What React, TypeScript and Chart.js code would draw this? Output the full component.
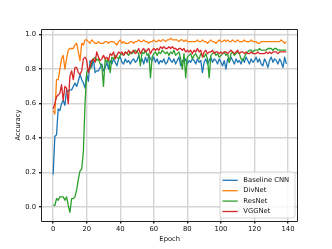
import React, { useEffect, useRef } from "react";
import { Chart, registerables } from "chart.js";

Chart.register(...registerables);

const epochs: number[] = Array.from({ length: 140 }, (_, i) => i);

const baselineCNN: number[] = [
  0.19, 0.41, 0.42, 0.57, 0.56, 0.60, 0.62, 0.59, 0.68, 0.67,
  0.68, 0.68, 0.70, 0.72, 0.70, 0.73, 0.77, 0.74, 0.72, 0.69,
  0.77, 0.73, 0.85, 0.81, 0.86, 0.78, 0.79, 0.79, 0.81, 0.83,
  0.79, 0.81, 0.84, 0.80, 0.85, 0.83, 0.86, 0.84, 0.82, 0.86,
  0.87, 0.84, 0.83, 0.86, 0.84, 0.85, 0.83, 0.85, 0.86, 0.84,
  0.85, 0.88, 0.84, 0.86, 0.83, 0.87, 0.84, 0.88, 0.86, 0.85,
  0.87, 0.84, 0.86, 0.83, 0.85, 0.84, 0.86, 0.83, 0.84, 0.87,
  0.85, 0.84, 0.86, 0.83, 0.85, 0.87, 0.82, 0.85, 0.84, 0.86,
  0.83, 0.85, 0.84, 0.86, 0.85, 0.83, 0.86, 0.84, 0.85, 0.78,
  0.84, 0.86, 0.83, 0.85, 0.87, 0.84, 0.86, 0.85, 0.83, 0.86,
  0.84, 0.82, 0.85, 0.80, 0.86, 0.84, 0.87, 0.85, 0.83, 0.86,
  0.84, 0.85, 0.83, 0.86, 0.84, 0.87, 0.85, 0.83, 0.86, 0.84,
  0.85, 0.87, 0.84, 0.86, 0.83, 0.82, 0.86, 0.84, 0.81, 0.85,
  0.87, 0.84, 0.86, 0.85, 0.83, 0.86, 0.84, 0.81, 0.87, 0.83,
];

const divNet: number[] = [
  0.56, 0.54, 0.74, 0.74, 0.80, 0.86, 0.88, 0.80, 0.86, 0.91,
  0.92, 0.92, 0.92, 0.94, 0.95, 0.90, 0.85, 0.95, 0.94, 0.97,
  0.97, 0.96, 0.95, 0.97, 0.96, 0.95, 0.95, 0.96, 0.95, 0.95,
  0.95, 0.96, 0.96, 0.95, 0.96, 0.96, 0.96, 0.95, 0.94, 0.96,
  0.97, 0.95, 0.96, 0.95, 0.95, 0.95, 0.96, 0.96, 0.95, 0.96,
  0.96, 0.97, 0.96, 0.96, 0.97, 0.96, 0.96, 0.95, 0.96, 0.96,
  0.97, 0.96, 0.96, 0.97, 0.96, 0.97, 0.97, 0.96, 0.97, 0.97,
  0.98, 0.97, 0.97, 0.97, 0.97, 0.96, 0.97, 0.97, 0.96, 0.97,
  0.96, 0.96, 0.96, 0.96, 0.96, 0.96, 0.97, 0.96, 0.96, 0.97,
  0.96, 0.96, 0.95, 0.96, 0.97, 0.96, 0.96, 0.95, 0.96, 0.97,
  0.96, 0.96, 0.97, 0.96, 0.97, 0.96, 0.96, 0.97, 0.96, 0.96,
  0.97, 0.96, 0.96, 0.96, 0.97, 0.96, 0.96, 0.96, 0.97, 0.96,
  0.96, 0.96, 0.95, 0.95, 0.96, 0.96, 0.96, 0.96, 0.96, 0.96,
  0.96, 0.96, 0.96, 0.96, 0.96, 0.96, 0.97, 0.96, 0.95, 0.96,
];

const resNet: number[] = [
  0.01, 0.01, 0.05, 0.04, 0.06, 0.06, 0.06, 0.04, 0.06, 0.01,
  -0.03, 0.05, 0.05, 0.06, 0.10, 0.16, 0.21, 0.22, 0.32, 0.60,
  0.78, 0.80, 0.80, 0.84, 0.86, 0.87, 0.85, 0.86, 0.83, 0.82,
  0.70, 0.86, 0.84, 0.86, 0.78, 0.87, 0.86, 0.88, 0.87, 0.86,
  0.88, 0.89, 0.88, 0.90, 0.89, 0.88, 0.90, 0.89, 0.90, 0.91,
  0.90, 0.89, 0.82, 0.90, 0.89, 0.91, 0.88, 0.89, 0.75, 0.87,
  0.89, 0.90, 0.88, 0.90, 0.89, 0.91, 0.90, 0.89, 0.90, 0.88,
  0.90, 0.89, 0.91, 0.88, 0.89, 0.90, 0.86, 0.80, 0.89, 0.75,
  0.87, 0.88, 0.89, 0.86, 0.88, 0.89, 0.87, 0.86, 0.89, 0.88,
  0.87, 0.89, 0.86, 0.75, 0.88, 0.89, 0.90, 0.88, 0.89, 0.87,
  0.88, 0.89, 0.90, 0.88, 0.89, 0.84, 0.89, 0.90, 0.88, 0.89,
  0.90, 0.89, 0.86, 0.85, 0.87, 0.89, 0.90, 0.91, 0.91, 0.90,
  0.91, 0.91, 0.91, 0.92, 0.91, 0.91, 0.91, 0.91, 0.92, 0.92,
  0.92, 0.91, 0.92, 0.92, 0.91, 0.91, 0.91, 0.91, 0.91, 0.91,
];

const vggNet: number[] = [
  0.57, 0.60, 0.64, 0.65, 0.66, 0.71, 0.62, 0.70, 0.69, 0.60,
  0.76, 0.79, 0.74, 0.81, 0.81, 0.78, 0.77, 0.79, 0.86, 0.87,
  0.85, 0.78, 0.82, 0.85, 0.86, 0.84, 0.90, 0.87, 0.85, 0.86,
  0.88, 0.86, 0.87, 0.85, 0.89, 0.88, 0.90, 0.86, 0.88, 0.90,
  0.89, 0.90, 0.88, 0.90, 0.89, 0.91, 0.89, 0.90, 0.91, 0.89,
  0.90, 0.92, 0.89, 0.91, 0.92, 0.90, 0.91, 0.92, 0.89, 0.91,
  0.92, 0.91, 0.92, 0.91, 0.93, 0.92, 0.93, 0.92, 0.92, 0.93,
  0.92, 0.93, 0.92, 0.92, 0.91, 0.92, 0.92, 0.91, 0.92, 0.90,
  0.91, 0.90, 0.91, 0.89, 0.91, 0.90, 0.92, 0.90, 0.91, 0.87,
  0.90, 0.91, 0.89, 0.90, 0.90, 0.91, 0.89, 0.90, 0.90, 0.89,
  0.90, 0.89, 0.90, 0.90, 0.89, 0.90, 0.91, 0.90, 0.89, 0.90,
  0.91, 0.89, 0.90, 0.90, 0.89, 0.90, 0.89, 0.89, 0.90, 0.89,
  0.89, 0.89, 0.90, 0.89, 0.89, 0.89, 0.89, 0.90, 0.89, 0.90,
  0.89, 0.90, 0.90, 0.90, 0.89, 0.90, 0.90, 0.90, 0.90, 0.90,
];

const seriesNames: string[] = ["Baseline CNN", "DivNet", "ResNet", "VGGNet"];
const seriesColors: string[] = ["#1f77b4", "#ff7f0e", "#2ca02c", "#d62728"];
const xTicks: number[] = [0, 20, 40, 60, 80, 100, 120, 140];
const yTicks: number[] = [0.0, 0.2, 0.4, 0.6, 0.8, 1.0];
const xTitle = "Epoch";
const yTitle = "Accuracy";

const FONT = "'DejaVu Sans', sans-serif";

const framePlugin = {
  id: "frameAndLegend",
  afterDatasetsDraw(chart: any) {
    const { ctx, chartArea } = chart;
    const { left, right, top, bottom } = chartArea;
    ctx.save();
    // spines
    ctx.strokeStyle = "#222";
    ctx.lineWidth = 1;
    ctx.beginPath();
    ctx.moveTo(Math.round(left) - 0.5, Math.round(top) + 0.5);
    ctx.lineTo(Math.round(right) - 0.5, Math.round(top) + 0.5);
    ctx.lineTo(Math.round(right) - 0.5, Math.round(bottom) + 0.5);
    ctx.lineTo(Math.round(left) - 0.5, Math.round(bottom) + 0.5);
    ctx.closePath();
    ctx.stroke();

    // legend
    const bw = 75;
    const bh = 46;
    const bx = right - 3 - bw;
    const by = bottom - 3 - bh;
    const r = 2;
    ctx.beginPath();
    ctx.moveTo(bx + r, by);
    ctx.lineTo(bx + bw - r, by);
    ctx.quadraticCurveTo(bx + bw, by, bx + bw, by + r);
    ctx.lineTo(bx + bw, by + bh - r);
    ctx.quadraticCurveTo(bx + bw, by + bh, bx + bw - r, by + bh);
    ctx.lineTo(bx + r, by + bh);
    ctx.quadraticCurveTo(bx, by + bh, bx, by + bh - r);
    ctx.lineTo(bx, by + r);
    ctx.quadraticCurveTo(bx, by, bx + r, by);
    ctx.closePath();
    ctx.fillStyle = "rgba(255,255,255,0.8)";
    ctx.fill();
    ctx.strokeStyle = "#cccccc";
    ctx.lineWidth = 0.8;
    ctx.stroke();

    ctx.font = `6.8px ${FONT}`;
    ctx.textBaseline = "middle";
    ctx.textAlign = "left";
    const ds = chart.data.datasets;
    for (let i = 0; i < ds.length; i++) {
      const yy = by + 8.3 + i * 10.4;
      ctx.strokeStyle = ds[i].borderColor;
      ctx.lineWidth = 1.3;
      ctx.beginPath();
      ctx.moveTo(bx + 2.5, yy);
      ctx.lineTo(bx + 17.7, yy);
      ctx.stroke();
      ctx.fillStyle = "#111";
      ctx.fillText(ds[i].label, bx + 23.3, yy);
    }
    ctx.restore();
  },
};

export default function App() {
  const canvasRef = useRef<HTMLCanvasElement | null>(null);

  useEffect(() => {
    const canvas = canvasRef.current;
    if (!canvas) return;
    const seriesData = [baselineCNN, divNet, resNet, vggNet];
    const chart = new Chart(canvas, {
      type: "line",
      data: {
        datasets: seriesNames.map((name, i) => ({
          label: name,
          data: epochs.map((e, j) => ({ x: e, y: seriesData[i][j] })),
          borderColor: seriesColors[i],
          backgroundColor: seriesColors[i],
          borderWidth: 1.3,
          pointRadius: 0,
          pointHoverRadius: 0,
          tension: 0,
          fill: false,
          borderJoinStyle: "round" as const,
          order: seriesNames.length - i,
        })),
      },
      options: {
        animation: false,
        responsive: false,
        devicePixelRatio: 1,
        events: [],
        layout: { padding: { top: 29, right: 34, left: 0, bottom: 0 } },
        plugins: {
          legend: { display: false },
          tooltip: { enabled: false },
        },
        scales: {
          x: {
            type: "linear",
            min: -6.95,
            max: 145.95,
            afterBuildTicks: (scale: any) => {
              scale.ticks = xTicks.map((v) => ({ value: v }));
            },
            afterFit: (scale: any) => {
              scale.height = 28;
            },
            ticks: {
              font: { family: FONT, size: 6.8 },
              color: "#111",
              padding: 2,
              maxRotation: 0,
              autoSkip: false,
              callback: (v: any) => String(v),
            },
            grid: {
              color: "#d4d4d4",
              lineWidth: 1.4,
              tickColor: "#222",
              tickLength: 2.5,
              drawTicks: true,
            },
            border: { display: false },
            title: {
              display: true,
              text: xTitle,
              font: { family: FONT, size: 6.8 },
              color: "#111",
              padding: { top: 0, bottom: 5.8 },
            },
          },
          y: {
            type: "linear",
            min: -0.08,
            max: 1.033,
            afterBuildTicks: (scale: any) => {
              scale.ticks = yTicks.map((v) => ({ value: v }));
            },
            afterFit: (scale: any) => {
              scale.width = 41.5;
            },
            ticks: {
              font: { family: FONT, size: 6.8 },
              color: "#111",
              padding: 3,
              autoSkip: false,
              callback: (v: any) => Number(v).toFixed(1),
            },
            grid: {
              color: "#d4d4d4",
              lineWidth: 1.4,
              tickColor: "#222",
              tickLength: 2.5,
              drawTicks: true,
            },
            border: { display: false },
            title: {
              display: true,
              text: yTitle,
              font: { family: FONT, size: 6.8 },
              color: "#111",
              padding: { top: 14, bottom: 0 },
            },
          },
        },
      },
      plugins: [framePlugin],
    });
    return () => chart.destroy();
  }, []);

  return (
    <div style={{ position: "fixed", left: 0, top: 0, width: 332, height: 249, background: "#fff" }}>
      <canvas ref={canvasRef} width={332} height={249} style={{ width: 332, height: 249, display: "block" }} />
    </div>
  );
}
